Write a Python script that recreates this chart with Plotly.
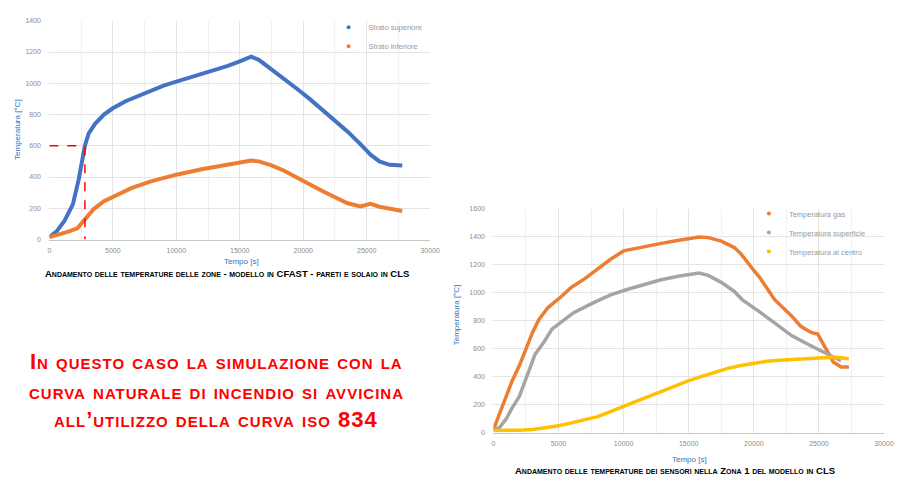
import plotly.graph_objects as go

# ---------------- Left chart: CFAST zones ----------------
t_sup = [0, 600, 1200, 1850, 2300, 2800, 3100, 3600, 4300, 5000, 6000, 7000, 8000, 9000,
         10000, 11000, 12000, 13000, 14000, 15000, 15900, 16500, 17500, 18500, 19500,
         20500, 21500, 22500, 23500, 24500, 25300, 26000, 26800, 27800]
T_sup = [15, 55, 120, 225, 380, 600, 680, 740, 800, 840, 885, 920, 955, 985,
         1010, 1035, 1058, 1085, 1110, 1140, 1170, 1150, 1090, 1030, 965,
         900, 830, 760, 690, 610, 543, 500, 478, 473]

t_inf = [0, 700, 1500, 2200, 2600, 3000, 3500, 4300, 5400, 6500, 8000, 10000, 12000,
         14000, 15900, 16500, 17500, 18500, 19500, 20500, 21500, 22500, 23500, 24500,
         25000, 25300, 26000, 27000, 27800]
T_inf = [15, 30, 50, 72, 110, 150, 195, 245, 290, 330, 372, 415, 450,
         480, 505, 500, 475, 440, 395, 350, 310, 270, 232, 212,
         220, 228, 210, 195, 183]

t_mark = 2800
T_mark = 600

# ---------------- Right chart: sensors zone 1 ----------------
t_gas = [0, 500, 1000, 1440, 2000, 2500, 3000, 3500, 4200, 5200, 6000, 7000, 8000, 9000,
         10000, 11000, 12000, 12800, 14000, 15000, 15800, 16500, 17500, 18500, 19000,
         20000, 20400, 21600, 22900, 23600, 24400, 24900, 25400, 26100, 26700, 27300]
T_gas = [20, 140, 265, 370, 480, 600, 715, 810, 895, 972, 1040, 1100, 1170, 1240,
         1300, 1320, 1340, 1352, 1372, 1390, 1400, 1395, 1370, 1324, 1280,
         1160, 1117, 951, 835, 761, 717, 706, 623, 506, 470, 470]

t_surf = [0, 500, 1000, 1400, 2000, 2600, 3200, 3900, 4500, 5200, 6200, 7700, 9000,
          10200, 11500, 12800, 14300, 15800, 16500, 17500, 18500, 19100, 20500, 21500,
          22900, 24000, 25000, 26100, 26700]
T_surf = [15, 40, 100, 170, 260, 410, 560, 650, 740, 790, 860, 930, 985,
          1022, 1060, 1092, 1120, 1141, 1125, 1075, 1010, 952, 860, 790,
          694, 640, 590, 541, 515]

t_core = [0, 1000, 2000, 3000, 4000, 5000, 6000, 7000, 8000, 9000, 10000, 11000, 12000,
          13000, 14000, 15000, 16000, 17000, 18000, 19000, 20000, 21000, 22000, 23000,
          24000, 25000, 26000, 26700, 27300]
T_core = [15, 15, 18, 22, 35, 50, 70, 92, 115, 150, 190, 225, 262,
          300, 338, 372, 402, 432, 460, 480, 498, 510, 518, 525,
          532, 538, 540, 535, 528]

x_ticks = [0, 5000, 10000, 15000, 20000, 25000, 30000]
y_ticks_left = [0, 200, 400, 600, 800, 1000, 1200, 1400]
y_ticks_right = [0, 200, 400, 600, 800, 1000, 1200, 1400, 1600]

W, H = 899, 480
def px(x):
    return x / W
def py(y):
    return 1 - y / H

BLUE = "#4472C4"
ORANGE = "#ED7D31"
GRAY = "#A5A5A5"
YELLOW = "#FFC000"
TITLE_BLUE = "#2E75B6"
FONT = "Liberation Sans, Arial, sans-serif"

fig = go.Figure()

# left chart traces
fig.add_trace(go.Scatter(x=t_sup, y=T_sup, mode="lines", line=dict(color=BLUE, width=4),
                         showlegend=False, xaxis="x", yaxis="y"))
fig.add_trace(go.Scatter(x=t_inf, y=T_inf, mode="lines", line=dict(color=ORANGE, width=4),
                         showlegend=False, xaxis="x", yaxis="y"))
fig.add_trace(go.Scatter(x=[0, t_mark, t_mark], y=[T_mark, T_mark, 0], mode="lines",
                         line=dict(color="#FF0000", width=1.5, dash="dash"),
                         showlegend=False, xaxis="x", yaxis="y"))
# left legend entries
for name, col in [("Strato superiore", BLUE), ("Strato inferiore", ORANGE)]:
    fig.add_trace(go.Scatter(x=[None], y=[None], mode="markers", name=name,
                             marker=dict(color=col, size=4), legend="legend",
                             xaxis="x", yaxis="y"))

# right chart traces
fig.add_trace(go.Scatter(x=t_gas, y=T_gas, mode="lines", line=dict(color=ORANGE, width=3.5),
                         showlegend=False, xaxis="x2", yaxis="y2"))
fig.add_trace(go.Scatter(x=t_surf, y=T_surf, mode="lines", line=dict(color=GRAY, width=3.5),
                         showlegend=False, xaxis="x2", yaxis="y2"))
fig.add_trace(go.Scatter(x=t_core, y=T_core, mode="lines", line=dict(color=YELLOW, width=3.5),
                         showlegend=False, xaxis="x2", yaxis="y2"))
for name, col in [("Temperatura gas", ORANGE), ("Temperatura superficie", GRAY),
                  ("Temperatura al centro", YELLOW)]:
    fig.add_trace(go.Scatter(x=[None], y=[None], mode="markers", name=name,
                             marker=dict(color=col, size=4), legend="legend2",
                             xaxis="x2", yaxis="y2"))

tickfont = dict(family=FONT, size=7, color="#8c8c8c")
common_x = dict(range=[0, 30000], tickvals=x_ticks, tickformat="d", showgrid=True,
                gridcolor="#e4e4e4", gridwidth=1, zeroline=False, showline=True,
                linecolor="#c8c8c8", ticks="outside", ticklen=4,
                tickcolor="rgba(0,0,0,0)", tickfont=tickfont,
                minor=dict(dtick=2500, showgrid=True, gridcolor="#f1f1f1", tick0=0))
common_y = dict(showgrid=True, gridcolor="#e4e4e4", gridwidth=1, zeroline=False,
                showline=False, ticks="outside", ticklen=6, tickcolor="rgba(0,0,0,0)",
                tickfont=tickfont, tickformat="d")

fig.update_layout(
    width=W, height=H,
    margin=dict(l=0, r=0, t=0, b=0),
    paper_bgcolor="white", plot_bgcolor="white",
    font=dict(family=FONT),
    xaxis=dict(domain=[px(48), px(434)], anchor="y", **common_x),
    yaxis=dict(domain=[py(239), py(17)], anchor="x", range=[0, 1400], tickvals=y_ticks_left,
               **common_y),
    xaxis2=dict(domain=[px(498), px(894)], anchor="y2", **common_x),
    yaxis2=dict(domain=[py(435), py(208)], anchor="x2", range=[0, 1600],
                tickvals=y_ticks_right, **common_y),
    legend=dict(x=px(331), y=py(9), xanchor="left", yanchor="top",
                font=dict(family=FONT, size=7.5, color="#999999"),
                bgcolor="rgba(0,0,0,0)", itemwidth=30),
    legend2=dict(x=px(757), y=py(198), xanchor="left", yanchor="top",
                 font=dict(family=FONT, size=7.5, color="#999999"),
                 bgcolor="rgba(0,0,0,0)", itemwidth=30),
)

red_font = dict(size=22, color="#FF0000", weight="bold", variant="small-caps")
def spaced(s):
    return '<span style="letter-spacing:1px">' + s + '</span>'

annotations = [
    # axis titles
    dict(x=px(243), y=py(261), text="Tempo [s]", font=dict(size=8, color=TITLE_BLUE)),
    dict(x=px(15), y=py(127), text="Temperatura [°C]", textangle=-90,
         font=dict(size=8, color=TITLE_BLUE)),
    dict(x=px(697), y=py(462), text="Tempo [s]", font=dict(size=8, color=TITLE_BLUE)),
    dict(x=px(461), y=py(315), text="Temperatura [°C]", textangle=-90,
         font=dict(size=8, color=TITLE_BLUE)),
    # captions
    dict(x=px(228), y=py(273),
         text="Andamento delle temperature delle zone - modello in CFAST - pareti e solaio in CLS",
         font=dict(size=9.5, color="black", weight="bold", variant="small-caps")),
    dict(x=px(682), y=py(473),
         text="Andamento delle temperature dei sensori nella Zona 1 del modello in CLS",
         font=dict(size=9.5, color="black", weight="bold", variant="small-caps")),
    # red statement
    dict(x=px(217), y=py(363), text=spaced("In questo caso la simulazione con la"),
         font=dict(red_font)),
    dict(x=px(217), y=py(393), text=spaced("curva naturale di incendio si avvicina"),
         font=dict(red_font)),
    dict(x=px(217), y=py(422), text=spaced("all’utilizzo della curva iso 834"),
         font=dict(red_font)),
]
for a in annotations:
    a.update(xref="paper", yref="paper", showarrow=False, xanchor="center", yanchor="middle")
    a["font"].setdefault("family", FONT)
fig.update_layout(annotations=annotations)

fig.write_html("out.html", config={"displayModeBar": False},
               post_script="document.body.style.margin='0';")
